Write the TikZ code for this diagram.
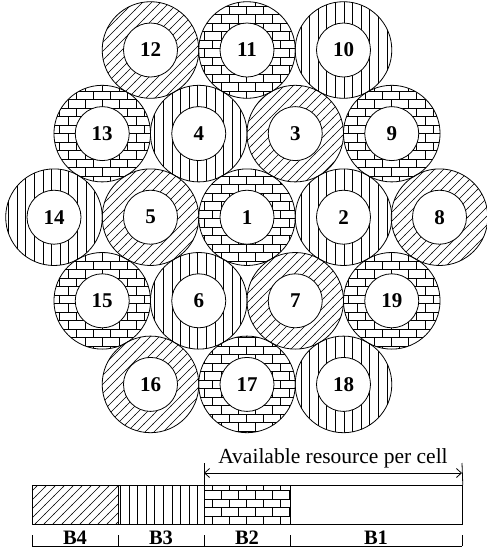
\documentclass[tikz,border=0pt]{standalone}
\usepackage{fontspec}
\setmainfont{Liberation Serif}
\usetikzlibrary{patterns,arrows.meta}
\pgfdeclarepatternformonly{mybricks}{\pgfpoint{-0.5pt}{-0.5pt}}{\pgfpoint{17.5pt}{17.5pt}}{\pgfpoint{17pt}{17pt}}{%
  \pgfsetlinewidth{0.65pt}%
  \pgfpathmoveto{\pgfpoint{-0.5pt}{0pt}}\pgfpathlineto{\pgfpoint{17.5pt}{0pt}}%
  \pgfpathmoveto{\pgfpoint{-0.5pt}{8.5pt}}\pgfpathlineto{\pgfpoint{17.5pt}{8.5pt}}%
  \pgfpathmoveto{\pgfpoint{0pt}{0pt}}\pgfpathlineto{\pgfpoint{0pt}{8.5pt}}%
  \pgfpathmoveto{\pgfpoint{8.5pt}{8.5pt}}\pgfpathlineto{\pgfpoint{8.5pt}{17pt}}%
  \pgfusepath{stroke}}
\pgfdeclarepatternformonly{myvlines}{\pgfpoint{-1pt}{-1pt}}{\pgfpoint{1pt}{9.6pt}}{\pgfpoint{8.6pt}{8.6pt}}{%
  \pgfsetlinewidth{0.65pt}%
  \pgfpathmoveto{\pgfpoint{0pt}{-1pt}}\pgfpathlineto{\pgfpoint{0pt}{9.6pt}}%
  \pgfusepath{stroke}}
\pgfdeclarepatternformonly{mydiag}{\pgfpoint{-1pt}{-1pt}}{\pgfpoint{10pt}{10pt}}{\pgfpoint{9pt}{9pt}}{%
  \pgfsetlinewidth{0.6pt}%
  \pgfpathmoveto{\pgfpoint{-0.5pt}{-0.5pt}}\pgfpathlineto{\pgfpoint{9.5pt}{9.5pt}}%
  \pgfusepath{stroke}}
\tikzset{
  outer/.style={circle, draw, line width=0.8pt, minimum size=96.6pt, inner sep=0pt},
  K/.style={outer, pattern=mybricks},
  V/.style={outer, pattern=myvlines},
  D/.style={outer, pattern=mydiag},
  inner/.style={circle, draw, fill=white, line width=0.8pt, minimum size=54pt, inner sep=0pt,
    font=\bfseries\fontsize{21}{24}\selectfont},
  seg/.style={rectangle, draw, line width=0.8pt, minimum width=86pt, minimum height=39pt,
    inner sep=0pt, anchor=north west},
  blabel/.style={font=\bfseries\fontsize{20.5}{24}\selectfont, inner sep=0pt},
  txt/.style={font=\fontsize{21.5}{24}\selectfont, inner sep=0pt},
  thin/.style={line width=0.8pt}
}
\begin{document}
\begin{tikzpicture}[x=1pt,y=-1pt]
\useasboundingbox[fill=white] (0,0) rectangle (487,550);
% outer rings
\node[D] (o12) at (150.5,50) {};
\node[K] (o11) at (247,50) {};
\node[V] (o10) at (343.5,50) {};
\node[K] (o13) at (102.25,133.6) {};
\node[V] (o4) at (198.75,133.6) {};
\node[D] (o3) at (295.25,133.6) {};
\node[K] (o9) at (391.75,133.6) {};
\node[V] (o14) at (54,217.2) {};
\node[D] (o5) at (150.5,217.2) {};
\node[K] (o1) at (247,217.2) {};
\node[V] (o2) at (343.5,217.2) {};
\node[D] (o8) at (439.5,217.2) {};
\node[K] (o15) at (102.25,300.8) {};
\node[V] (o6) at (198.75,300.8) {};
\node[D] (o7) at (295.25,300.8) {};
\node[K] (o19) at (391.75,300.8) {};
\node[D] (o16) at (150.5,384.4) {};
\node[K] (o17) at (247,384.4) {};
\node[V] (o18) at (343.5,384.4) {};
% inner cells
\foreach \n in {1,...,19} {
  \node[inner] (i\n) at (o\n) {\n};
}
% resource bar
\node[seg, pattern=mydiag] (b4) at (32,485) {};
\node[seg, pattern=myvlines] (b3) at (118,485) {};
\node[seg, pattern=mybricks] (b2) at (204,485) {};
\node[seg, minimum width=172pt] (b1) at (290,485) {};
% available resource dimension
\coordinate (e1) at (204,463);
\coordinate (e2) at (462,463);
\coordinate (a1) at (204,473);
\coordinate (a2) at (462,473);
\draw[thin] (b2.north west) -- (e1);
\draw[thin] (b1.north east) -- (e2);
\draw[thin, {Straight Barb[length=5pt,width=9pt]}-{Straight Barb[length=5pt,width=9pt]}] (a1) -- (a2);
\node[txt] (avail) at (333,458) {Available resource per cell};
% bottom scale
\coordinate (t0) at (32,535);
\coordinate (t1) at (118,535);
\coordinate (t2) at (204,535);
\coordinate (t3) at (290,535);
\coordinate (t4) at (462,535);
\coordinate (s0) at (32,546);
\coordinate (s1) at (118,546);
\coordinate (s2) at (204,546);
\coordinate (s3) at (290,546);
\coordinate (s4) at (462,546);
\draw[thin] (s0) -- (s4);
\foreach \k in {0,...,4} { \draw[thin] (t\k) -- (s\k); }
\node[blabel] (l4) at (75,538) {B4};
\node[blabel] (l3) at (161,538) {B3};
\node[blabel] (l2) at (247,538) {B2};
\node[blabel] (l1) at (376,538) {B1};
\end{tikzpicture}
\end{document}
